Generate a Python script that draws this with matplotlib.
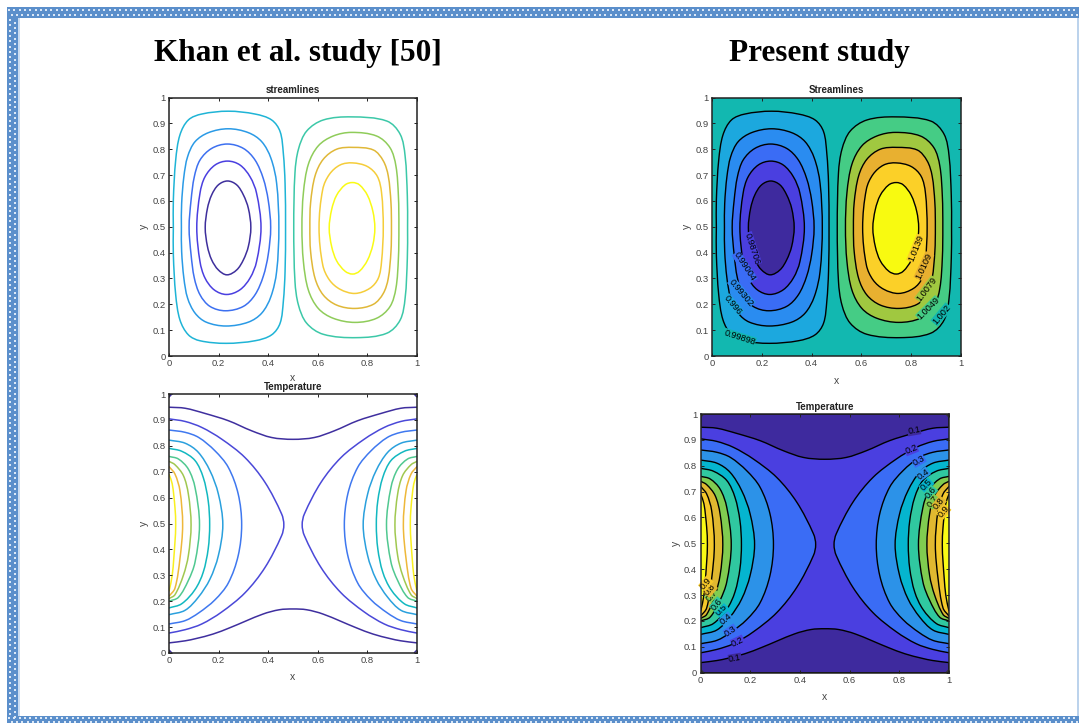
import numpy as np
import matplotlib
matplotlib.use('Agg')
import matplotlib.pyplot as plt
from matplotlib.path import Path
from matplotlib.patches import PathPatch, Rectangle

plt.rcParams['font.family'] = ['Liberation Sans', 'DejaVu Sans']

W, H = 1079, 723

# Streamline contours (outer to inner)
left_cell_x = [
    [.0175, .0175, .027, .044, .078, .132, .239, .347, .414, .448, .461, .468, .470, .468, .461, .448, .414, .347, .23, .125, .078, .044, .027, .0175],
    [.05, .051, .060, .075, .105, .159, .239, .32, .374, .411, .434, .443, .434, .411, .374, .32, .23, .15, .105, .075, .060, .051],
    [.081, .089, .102, .125, .172, .235, .30, .347, .38, .40, .41, .40, .38, .347, .30, .228, .165, .125, .102, .089],
    [.112, .125, .145, .186, .236, .286, .327, .353, .371, .353, .327, .286, .232, .182, .145, .125],
    [.146, .155, .172, .199, .236, .273, .30, .32, .33, .32, .30, .273, .234, .199, .172, .155],
]
left_cell_y = [
    [.497, .603, .758, .855, .913, .936, .947, .936, .913, .868, .784, .668, .497, .327, .211, .127, .082, .059, .049, .059, .082, .14, .237, .392],
    [.497, .59, .694, .771, .829, .864, .879, .864, .829, .765, .668, .497, .327, .23, .166, .131, .116, .131, .166, .224, .301, .404],
    [.497, .603, .693, .758, .803, .82, .803, .758, .687, .603, .497, .392, .308, .237, .192, .175, .192, .237, .302, .392],
    [.497, .63, .693, .739, .754, .739, .693, .63, .497, .365, .302, .256, .238, .256, .302, .365],
    [.497, .571, .623, .662, .677, .662, .623, .571, .497, .424, .372, .333, .314, .333, .372, .424],
]
right_cell_x = [
    [.503, .508, .522, .555, .622, .736, .878, .932, .952, .961, .962, .961, .952, .932, .878, .757, .622, .555, .522, .508],
    [.536, .542, .562, .602, .662, .736, .837, .891, .915, .925, .927, .925, .915, .891, .837, .75, .662, .602, .562, .542],
    [.568, .571, .589, .622, .676, .742, .824, .864, .884, .895, .897, .895, .884, .864, .824, .75, .676, .622, .589, .571],
    [.605, .620, .647, .69, .74, .80, .84, .857, .864, .857, .844, .81, .75, .69, .647, .620],
    [.646, .656, .676, .71, .74, .768, .80, .822, .83, .822, .80, .768, .74, .71, .676, .656],
]
right_cell_y = [
    [.497, .709, .80, .87, .913, .925, .909, .858, .774, .619, .497, .378, .223, .139, .088, .071, .084, .127, .197, .288],
    [.497, .632, .742, .813, .851, .865, .851, .806, .735, .619, .497, .378, .262, .191, .146, .13, .146, .184, .255, .365],
    [.497, .593, .697, .761, .80, .807, .797, .755, .697, .593, .497, .404, .30, .242, .20, .184, .197, .236, .30, .404],
    [.497, .645, .703, .739, .747, .733, .695, .632, .497, .365, .301, .262, .242, .258, .294, .352],
    [.495, .567, .622, .662, .671, .662, .622, .56, .495, .43, .37, .328, .317, .328, .368, .423],
]

# Temperature contour 0.1, left half of the top and bottom curves
band_top_x = [0, .065, .145, .239, .333, .414, .5]
band_top_y = [.949, .945, .925, .897, .858, .832, .825]
band_bottom_x = [0, .065, .11, .177, .244, .378, .445, .5]
band_bottom_y = [.039, .047, .056, .073, .097, .15, .167, .17]

# Temperature contours 0.2 to 0.9, left wall arcs
arc_x = [
    [0, .065, .132, .212, .306, .387, .454, .463, .454, .387, .306, .212, .132, .065, 0],
    [0, .065, .12, .185, .239, .279, .293, .279, .239, .185, .12, .065, 0],
    [0, .065, .118, .165, .199, .217, .199, .165, .118, .065, 0],
    [0, .051, .105, .138, .158, .164, .158, .138, .105, .051, 0],
    [0, .038, .078, .105, .123, .105, .078, .038, 0],
    [0, .024, .058, .078, .089, .078, .058, .024, 0],
    [0, .024, .044, .055, .044, .024, 0],
    [0, .013, .024, .027, .024, .013, 0],
]
arc_y = [
    [.904, .894, .871, .826, .755, .659, .537, .495, .453, .33, .232, .158, .112, .09, .077],
    [.861, .852, .832, .781, .717, .614, .495, .376, .27, .205, .155, .125, .112],
    [.822, .81, .775, .704, .614, .495, .376, .285, .215, .165, .148],
    [.79, .779, .743, .678, .588, .495, .402, .312, .245, .19, .174],
    [.759, .749, .71, .639, .495, .351, .28, .215, .2],
    [.74, .727, .685, .614, .495, .376, .30, .225, .21],
    [.72, .691, .627, .495, .363, .25, .219],
    [.69, .653, .562, .495, .428, .30, .238],
]

# Small contour pieces in the corners of the temperature panels
corner_x = [[0, .012], [1, .988], [0, .012], [1, .988]]
corner_y = [[.012, 0], [.012, 0], [.988, 1], [.988, 1]]

# Line and fill colours per contour level
left_cell_lines = ['#1fb4d6', '#2a9ae6', '#3d70f0', '#4a3fe0', '#3e2f9c']
right_cell_lines = ['#3cc8a8', '#8fcc5a', '#e0b838', '#f5cd3a', '#f9fb15']
temp_lines = ['#3f2f9f', '#4a48d8', '#3f78ef', '#2aa0dd', '#12b8c0', '#50c890', '#a0c850', '#eeb83a', '#f9f020']
stream_bg = '#12b8b0'
left_cell_fills = ['#1ca8de', '#2a8cf0', '#3a6cf5', '#4a3fe0', '#3e2a9e']
right_cell_fills = ['#45cc85', '#a0c840', '#e8b030', '#fbd028', '#f8fa10']
temp_bg = '#3e2a9e'
temp_mid = '#4a3fe0'
temp_fills = ['#3a6cf5', '#2c92e8', '#05b5cf', '#30c8a0', '#80cc50', '#e0b830', '#f5c82a', '#f9fb15']

# Contour labels: text, x, y, rotation, colour behind the text
stream_labels = ['0.98706', '0.99004', '0.99302', '0.996', '0.99898', '1.0139', '1.0109', '1.0079', '1.0049', '1.002']
stream_label_x = [.162, .131, .118, .084, .111, .819, .851, .862, .869, .922]
stream_label_y = [.416, .345, .245, .197, .072, .416, .348, .258, .184, .161]
stream_label_rot = [-72, -57, -50, -50, -18, 68, 65, 53, 45, 50]
stream_label_bg = left_cell_fills[3::-1] + [stream_bg] + right_cell_fills[3::-1] + [stream_bg]
temp_labels = ['0.1', '0.2', '0.3', '0.4', '0.5', '0.6', '0.7', '0.8', '0.9'] * 2
temp_label_x = [.859, .848, .878, .895, .909, .925, .936, .96, .978, .138, .149, .121, .102, .084, .064, .044, .038, .021]
temp_label_y = [.936, .863, .82, .768, .725, .696, .661, .655, .622, .055, .12, .161, .207, .242, .264, .30, .32, .345]
temp_label_rot = [10, 22, 30, 35, 45, 50, 50, 50, 50, 10, 25, 35, 40, 45, 50, 50, 50, 50]
temp_label_bg = ([temp_bg, temp_mid] + temp_fills[:7]) * 2

x_ticks = [0, .2, .4, .6, .8, 1]
x_tick_labels = ['0', '0.2', '0.4', '0.6', '0.8', '1']
y_ticks = [0, .1, .2, .3, .4, .5, .6, .7, .8, .9, 1]
y_tick_labels = ['0', '0.1', '0.2', '0.3', '0.4', '0.5', '0.6', '0.7', '0.8', '0.9', '1']


def smooth_path(xs, ys, closed=False, tail=None):
    # Bezier curve through the read points, handle length follows the chord
    p = np.column_stack([xs, ys]).astype(float)
    n = len(p)
    verts = [p[0]]
    codes = [Path.MOVETO]

    def tangent(i):
        if closed:
            d = p[(i + 1) % n] - p[i - 1]
        else:
            d = p[min(i + 1, n - 1)] - p[max(i - 1, 0)]
        return d / np.hypot(*d)

    for i in range(n if closed else n - 1):
        j = (i + 1) % n
        chord = np.hypot(*(p[j] - p[i]))
        verts += [p[i] + tangent(i) * chord / 3, p[j] - tangent(j) * chord / 3, p[j]]
        codes += [Path.CURVE4] * 3
    for corner in tail or []:
        verts.append(corner)
        codes.append(Path.LINETO)
    if closed or tail is not None:
        verts.append(verts[0])
        codes.append(Path.CLOSEPOLY)
    return Path(verts, codes)


def make_axes(fig, left, right, top, bottom, title, xlabel_y):
    ax = fig.add_axes([left / W, 1 - bottom / H, (right - left) / W, (bottom - top) / H])
    ax.set_xlim(0, 1)
    ax.set_ylim(0, 1)
    ax.set_xticks(x_ticks, x_tick_labels)
    ax.set_yticks(y_ticks, y_tick_labels)
    ax.tick_params(direction='in', top=True, right=True, length=2, width=0.7, labelsize=6.8,
                   labelcolor='#444444', pad=2.5, color='#222222')
    for spine in ax.spines.values():
        spine.set_linewidth(1.1)
        spine.set_color('#222222')
        spine.set_zorder(10)
    ax.set_title(title, fontsize=7, fontweight='bold', color='#222222', pad=3)
    fig.text((left + right) / 2 / W, 1 - xlabel_y / H, 'x', fontsize=7.5, color='#444444', ha='center', va='center')
    fig.text((left - 25) / W, 1 - (top + bottom) / 2 / H, 'y', fontsize=7.5, color='#444444', rotation=90, ha='center', va='center')
    return ax


def draw_stream(ax, filled):
    if filled:
        ax.set_facecolor(stream_bg)
    cells = [(left_cell_x, left_cell_y, left_cell_lines, left_cell_fills),
             (right_cell_x, right_cell_y, right_cell_lines, right_cell_fills)]
    for cx, cy, lines, fills in cells:
        for xs, ys, line, fill in zip(cx, cy, lines, fills):
            path = smooth_path(xs, ys, closed=True)
            if filled:
                ax.add_patch(PathPatch(path, facecolor=fill, edgecolor='black', lw=1.0))
            else:
                ax.add_patch(PathPatch(path, facecolor='none', edgecolor=line, lw=1.1))


def draw_temp(ax, filled):
    mirror = lambda v: list(v) + [1 - a for a in v[-2::-1]]
    mirror_y = lambda v: list(v) + list(v[-2::-1])
    top = smooth_path(mirror(band_top_x), mirror_y(band_top_y), tail=[(1, 1), (0, 1)] if filled else None)
    bottom = smooth_path(mirror(band_bottom_x), mirror_y(band_bottom_y), tail=[(1, 0), (0, 0)] if filled else None)
    if filled:
        ax.set_facecolor(temp_mid)
    for path in (top, bottom):
        if filled:
            ax.add_patch(PathPatch(path, facecolor=temp_bg, edgecolor='black', lw=1.0))
        else:
            ax.add_patch(PathPatch(path, facecolor='none', edgecolor=temp_lines[0], lw=1.1))
    for xs, ys, line, fill in zip(arc_x, arc_y, temp_lines[1:], temp_fills):
        for px in (list(xs), [1 - a for a in xs]):
            if filled:
                wall = smooth_path(px, ys, tail=[])
                ax.add_patch(PathPatch(wall, facecolor=fill, edgecolor='none'))
                ax.add_patch(PathPatch(smooth_path(px, ys), facecolor='none', edgecolor='black', lw=1.0))
            else:
                ax.add_patch(PathPatch(smooth_path(px, ys), facecolor='none', edgecolor=line, lw=1.1))
    for xs, ys in zip(corner_x, corner_y):
        ax.plot(xs, ys, color='#333333' if filled else temp_lines[0], lw=1.0, solid_capstyle='butt')


def draw_labels(ax, labels, xs, ys, rots, bgs):
    for text, x, y, rot, bg in zip(labels, xs, ys, rots, bgs):
        ax.text(x, y, text, fontsize=6.6, color='black', rotation=rot, rotation_mode='anchor',
                ha='center', va='center', zorder=5,
                bbox=dict(facecolor=bg, edgecolor='none', pad=0.2))


def draw_border(fig):
    bg = fig.add_axes([0, 0, 1, 1], zorder=-1)
    bg.set_xlim(0, W)
    bg.set_ylim(H, 0)
    bg.axis('off')
    band = '#5b8fcb'
    bg.add_patch(Rectangle((7, 7), W - 7, 11, color=band, lw=0))
    bg.add_patch(Rectangle((7, 7), 11, H - 7, color=band, lw=0))
    bg.add_patch(Rectangle((7, 716), W - 7, 7, color=band, lw=0))
    bg.add_patch(Rectangle((18, 18), 2, 698, color='#c9dcf2', lw=0))
    bg.add_patch(Rectangle((1077, 18), 2, 698, color='#bcd3ec', lw=0))
    dots_x = np.arange(9, W, 5.3)
    dots_y = np.arange(20, 716, 5.3)
    dot = dict(s=3, c='#dbe8f7', marker='s', linewidths=0)
    bg.scatter(dots_x, np.full(len(dots_x), 10), **dot)
    bg.scatter(dots_x + 2.6, np.full(len(dots_x), 15), **dot)
    bg.scatter(dots_x, np.full(len(dots_x), 718), **dot)
    bg.scatter(dots_x + 2.6, np.full(len(dots_x), 722), **dot)
    bg.scatter(np.full(len(dots_y), 10), dots_y, **dot)
    bg.scatter(np.full(len(dots_y), 15), dots_y + 2.6, **dot)


fig = plt.figure(figsize=(W / 100, H / 100), dpi=100, facecolor='white')
draw_border(fig)

fig.text(298 / W, 1 - 54 / H, 'Khan et al. study [50]', family='Liberation Serif', fontweight='bold',
         fontsize=22.5, ha='center', va='center', color='black')
fig.text(819 / W, 1 - 53 / H, 'Present study', family='Liberation Serif', fontweight='bold',
         fontsize=22.5, ha='center', va='center', color='black')

ax_a = make_axes(fig, 169, 417, 97.5, 356, 'streamlines', 378)
draw_stream(ax_a, False)

ax_b = make_axes(fig, 169, 417, 394, 653, 'Temperature', 677)
draw_temp(ax_b, False)

ax_c = make_axes(fig, 712, 961, 97.5, 356, 'Streamlines', 381)
draw_stream(ax_c, True)
draw_labels(ax_c, stream_labels, stream_label_x, stream_label_y, stream_label_rot, stream_label_bg)

ax_d = make_axes(fig, 700.7, 949, 414, 672.7, 'Temperature', 697)
draw_temp(ax_d, True)
draw_labels(ax_d, temp_labels, temp_label_x, temp_label_y, temp_label_rot, temp_label_bg)

fig.savefig('out.png', dpi=100)
